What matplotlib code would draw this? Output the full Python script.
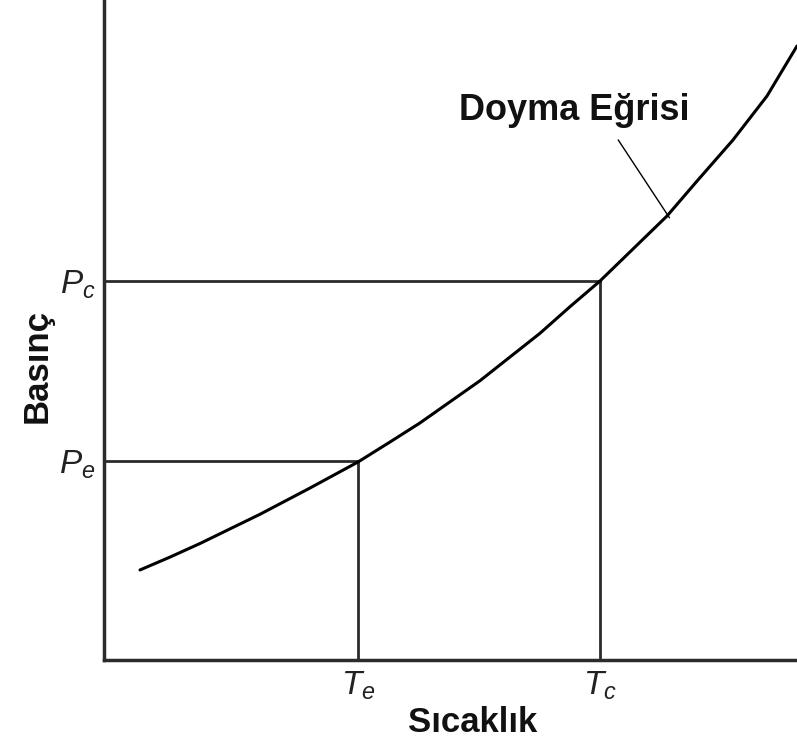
import matplotlib

matplotlib.use("Agg")
import matplotlib.pyplot as plt  # noqa: E402

plt.rcParams["font.family"] = ["Liberation Sans", "DejaVu Sans"]
plt.rcParams["mathtext.fontset"] = "custom"
plt.rcParams["mathtext.rm"] = "Liberation Sans"
plt.rcParams["mathtext.it"] = "Liberation Sans:italic"

# saturation curve (temperature, pressure in 0-100 units)
curve_t = [5.19, 9.52, 13.85, 22.51, 29.73, 36.65, 41.27, 45.60, 54.26,
           62.91, 67.24, 71.57, 76.33, 81.24, 85.71, 90.76, 95.67, 100.0]
curve_p = [13.64, 15.59, 17.65, 22.08, 26.06, 30.0, 33.03, 35.92, 42.32,
           49.50, 53.53, 57.42, 62.27, 67.27, 72.73, 78.79, 85.45, 93.03]

# evaporator / condenser states
state_t = [36.65, 71.57]
state_p = [30.1, 57.42]
t_labels = ["$T_e$", "$T_c$"]
p_labels = ["$P_e$", "$P_c$"]

curve_label = "Doyma Eğrisi"
label_pos = (67.8, 83.3)
leader_from = (74.2, 78.8)
leader_to = (81.6, 67.0)

line_col = "#2b2b2b"

fig = plt.figure(figsize=(7.97, 7.47), dpi=100)
ax = fig.add_axes([104 / 797, 87 / 747, 693 / 797, 660 / 747])
ax.set_xlim(0, 100)
ax.set_ylim(0, 100)

ax.plot(curve_t, curve_p, color="black", lw=2.2, solid_capstyle="round",
        solid_joinstyle="round", zorder=3)

for t, p in zip(state_t, state_p):
    ax.plot([0, t], [p, p], color=line_col, lw=2, zorder=2)
    ax.plot([t, t], [0, p], color=line_col, lw=2, zorder=2)

ax.annotate(
    "",
    xy=leader_to,
    xytext=leader_from,
    arrowprops=dict(arrowstyle="-", color="black", lw=1, shrinkA=0, shrinkB=0),
)
ax.text(label_pos[0], label_pos[1], curve_label, ha="center", va="center",
        fontsize=26, fontweight="bold", color="#111111")

ax.set_xticks(state_t)
ax.set_xticklabels(t_labels, fontsize=24)
ax.set_yticks(state_p)
ax.set_yticklabels(p_labels, fontsize=24)
ax.tick_params(axis="both", length=0, colors="#222222")
ax.tick_params(axis="x", pad=7)
ax.tick_params(axis="y", pad=6)

ax.set_xlabel("Sıcaklık", fontsize=25, fontweight="bold", color="#111111")
ax.xaxis.set_label_coords(0.532, -0.07)
ax.set_ylabel("Basınç", fontsize=25, fontweight="bold", color="#111111")
ax.yaxis.set_label_coords(-0.072, 0.445)

for side in ("top", "right"):
    ax.spines[side].set_visible(False)
for side in ("left", "bottom"):
    ax.spines[side].set_color(line_col)
    ax.spines[side].set_linewidth(2.5)

fig.savefig("out.png", dpi=100)
plt.close(fig)
